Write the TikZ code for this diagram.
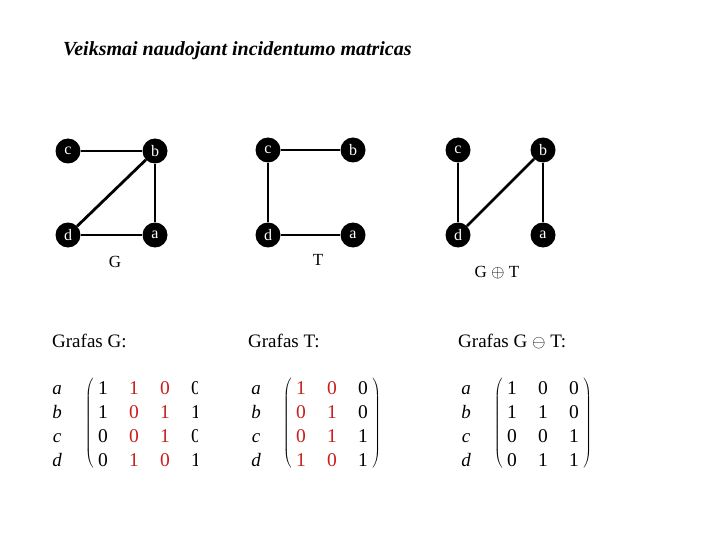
\documentclass[tikz,border=0pt]{standalone}
\usepackage{fontspec}
\setmainfont{Liberation Serif}
\usetikzlibrary{matrix, positioning}
\usepackage{xcolor}
\definecolor{rojo}{RGB}{200,30,30}
\tikzset{
  vertice/.style={circle, fill=black, text=white, minimum size=25pt,
                  inner sep=0pt, font=\fontsize{16}{16}\selectfont},
  arista/.style={line width=2.8pt},
  nombre/.style={font=\fontsize{17}{17}\selectfont},
  titulo/.style={font=\fontsize{20}{20}\selectfont\bfseries\itshape,
                 inner sep=0pt},
  encabezado/.style={font=\fontsize{19}{19}\selectfont, inner sep=0pt},
  fila/.style={font=\fontsize{19}{19}\selectfont\itshape, inner sep=0pt},
  matriz/.style={matrix of nodes, left delimiter=(, right delimiter=),
                 nodes={font=\fontsize{19.5}{19.5}\selectfont, text height=13pt,
                        text depth=0pt, inner sep=0pt, minimum width=10pt},
                 row sep=11pt, column sep=21pt, inner sep=3pt,
                 every left delimiter/.style={transform shape, xscale=1.6,
                                              xshift=-1pt},
                 every right delimiter/.style={transform shape, xscale=1.6,
                                               xshift=0pt}}
}
\begin{document}
\begin{tikzpicture}[x=1pt, y=-1pt, on grid]
  \useasboundingbox (0,0) rectangle (720,540);

  % ── Título ──
  \node[titulo, anchor=base west] (titulo) at (63,56)
        {Veiksmai naudojant incidentumo matricas};

  % ── Grafo G ──
  \node[vertice]                    (gc) at (68,151) {c};
  \node[vertice, right=87pt of gc]  (gb) {b};
  \node[vertice, below=84pt of gc]  (gd) {d};
  \node[vertice, below=84pt of gb]  (ga) {a};
  \node[nombre] (ng) at (115,262) {G};
  \draw[arista] (gc) -- (gb);
  \draw[arista] (gb) -- (gd);
  \draw[arista] (gb) -- (ga);
  \draw[arista] (gd) -- (ga);

  % ── Grafo T ──
  \node[vertice]                    (tc) at (268,150) {c};
  \node[vertice, right=85pt of tc]  (tb) {b};
  \node[vertice, below=85pt of tc]  (td) {d};
  \node[vertice, below=85pt of tb]  (ta) {a};
  \node[nombre] (nt) at (318,260) {T};
  \draw[arista] (tc) -- (tb);
  \draw[arista] (tc) -- (td);
  \draw[arista] (td) -- (ta);

  % ── Grafo G + T ──
  \node[vertice]                    (sc) at (458,150) {c};
  \node[vertice, right=85pt of sc]  (sb) {b};
  \node[vertice, below=85pt of sc]  (sd) {d};
  \node[vertice, below=85pt of sb]  (sa) {a};
  \node[nombre] (ns) at (497,273) {G $\oplus$ T};
  \draw[arista] (sc) -- (sd);
  \draw[arista] (sd) -- (sb);
  \draw[arista] (sb) -- (sa);

  % ── Matrices de incidencia ──
  \node[encabezado, anchor=base west] (eg) at (52,347)  {Grafas G:};
  \node[encabezado, anchor=base west] (et) at (248,347) {Grafas T:};
  \node[encabezado, anchor=base west] (es) at (458,347) {Grafas G $\ominus$ T:};

  \begin{scope}
    \clip (0,300) rectangle (197,500);
    \matrix[matriz, column 2/.style={nodes={text=rojo}},
            column 3/.style={nodes={text=rojo}},
            every left delimiter/.style={transform shape, xscale=1.6,
                                         xshift=1.5pt}] (mg) at (149.5,423.5) {
      1 & 1 & 0 & 0 \\
      1 & 0 & 1 & 1 \\
      0 & 0 & 1 & 0 \\
      0 & 1 & 0 & 1 \\
    };
  \end{scope}
  \matrix[matriz, column 1/.style={nodes={text=rojo}},
          column 2/.style={nodes={text=rojo}}] (mt) at (332,423.5) {
    1 & 0 & 0 \\
    0 & 1 & 0 \\
    0 & 1 & 1 \\
    1 & 0 & 1 \\
  };
  \matrix[matriz] (ms) at (543,423.5) {
    1 & 0 & 0 \\
    1 & 1 & 0 \\
    0 & 0 & 1 \\
    0 & 1 & 1 \\
  };

  \foreach \f/\l in {1/a, 2/b, 3/c, 4/d} {
    \node[fila, anchor=base] (fg\l) at (57,0 |- mg-\f-1.base)  {\l};
    \node[fila, anchor=base] (ft\l) at (256,0 |- mt-\f-1.base) {\l};
    \node[fila, anchor=base] (fs\l) at (466,0 |- ms-\f-1.base) {\l};
  }
\end{tikzpicture}
\end{document}
